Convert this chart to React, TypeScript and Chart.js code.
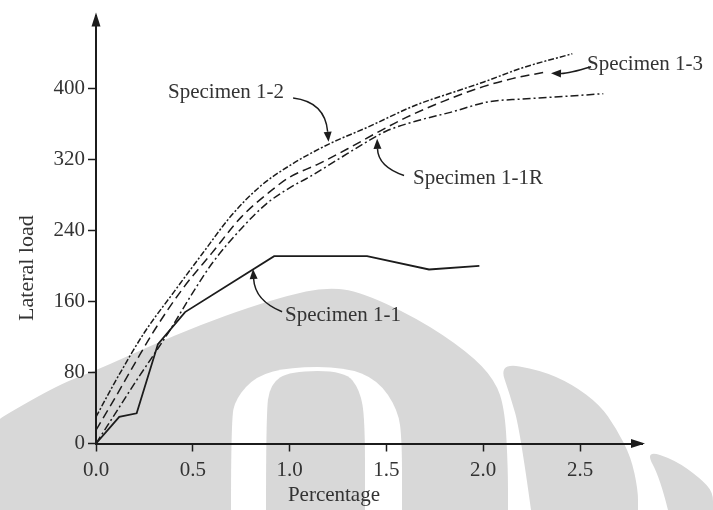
import React, { useEffect, useRef } from "react";
import { Chart, registerables } from "chart.js";
Chart.register(...registerables);

// ---- data ----
const specimen11X = [0, 0.12, 0.21, 0.32, 0.46, 0.92, 1.4, 1.72, 1.98];
const specimen11Y = [0, 30, 34, 112, 148, 211, 211, 196, 200];

const specimen12X = [0, 0.1, 0.25, 0.4, 0.55, 0.7, 0.85, 1.0, 1.2, 1.4, 1.65, 1.85, 2.0, 2.2, 2.46];
const specimen12Y = [30, 70, 125, 170, 214, 257, 290, 313, 337, 356, 381, 396, 407, 423, 439];

const specimen13X = [0, 0.1, 0.2, 0.3, 0.45, 0.6, 0.75, 0.9, 1.0, 1.15, 1.3, 1.45, 1.6, 1.8, 2.0, 2.15, 2.31];
const specimen13Y = [15, 52, 90, 127, 175, 215, 255, 284, 300, 315, 332, 350, 367, 386, 402, 411, 418];

const specimen11RX = [0, 0.1, 0.2, 0.38, 0.5, 0.6, 0.75, 0.88, 1.0, 1.1, 1.25, 1.4, 1.5, 1.65, 1.83, 2.03, 2.2, 2.35, 2.62];
const specimen11RY = [0, 34, 68, 127, 170, 203, 242, 270, 288, 300, 320, 340, 352, 363, 373, 385, 388, 390, 394];

const xTicks = [0, 0.5, 1.0, 1.5, 2.0, 2.5];
const yTicks = [0, 80, 160, 240, 320, 400];
const xMax = 2.82;
const yMax = 482;

const xTitle = "Percentage";
const yTitle = "Lateral load";

// annotation labels with curved arrows (data coordinates)
const labelTexts = ["Specimen 1-2", "Specimen 1-3", "Specimen 1-1R", "Specimen 1-1"];
const labelX = [0.372, 2.536, 1.637, 0.976];
const labelY = [389.5, 421.2, 292.4, 137.5];
const arrowStartX = [1.018, 2.557, 1.591, 0.961];
const arrowStartY = [389.1, 424.4, 301.8, 148.4];
const arrowCtrlX = [1.183, 2.438, 1.457, 0.821];
const arrowCtrlY = [384.7, 416.6, 311.8, 160.7];
const arrowTipX = [1.201, 2.35, 1.452, 0.811];
const arrowTipY = [339.9, 417.1, 343.2, 196.5];

const FONT = "'Liberation Serif', 'Times New Roman', serif";
const INK = "#1c1c1c";
const TEXT = "#333";
const WM = "#d8d8d8";

const toPts = (xs: number[], ys: number[]) => xs.map((x, i) => ({ x, y: ys[i] }));

function smoothPath(ctx: CanvasRenderingContext2D, pts: number[][]) {
  ctx.moveTo(pts[0][0], pts[0][1]);
  for (let i = 1; i < pts.length - 1; i++) {
    const mx = (pts[i][0] + pts[i + 1][0]) / 2;
    const my = (pts[i][1] + pts[i + 1][1]) / 2;
    ctx.quadraticCurveTo(pts[i][0], pts[i][1], mx, my);
  }
  const last = pts[pts.length - 1];
  ctx.lineTo(last[0], last[1]);
}

// faint background watermark (decoration only)
const watermarkPlugin = {
  id: "watermark",
  beforeDraw(chart: any) {
    const ctx = chart.ctx as CanvasRenderingContext2D;
    ctx.save();
    ctx.fillStyle = WM;
    // big blob
    ctx.beginPath();
    smoothPath(ctx, [
      [0, 510], [0, 420], [0, 418], [60, 384], [97, 370], [150, 346], [200, 325], [250, 307], [290, 295],
      [322, 288], [356, 290], [417, 318], [468, 352], [495, 380], [505, 410], [508, 470], [508, 510],
    ]);
    ctx.closePath();
    ctx.fill();
    // white ring
    ctx.fillStyle = "#ffffff";
    ctx.beginPath();
    smoothPath(ctx, [
      [231, 510], [231, 420], [236, 398], [256, 376], [290, 367], [345, 367], [378, 380],
      [398, 410], [402, 440], [402, 510],
    ]);
    ctx.closePath();
    ctx.fill();
    // inner grey
    ctx.fillStyle = WM;
    ctx.beginPath();
    smoothPath(ctx, [
      [266, 510], [266, 415], [270, 384], [290, 371], [345, 371], [360, 390], [365, 420], [365, 510],
    ]);
    ctx.closePath();
    ctx.fill();
    // right blob
    ctx.beginPath();
    smoothPath(ctx, [
      [531, 510], [520, 430], [510, 395], [499, 363], [540, 370], [572, 384], [600, 405],
      [616, 428], [631, 457], [638, 490], [638, 510],
    ]);
    ctx.closePath();
    ctx.fill();
    // far right piece
    ctx.beginPath();
    smoothPath(ctx, [
      [668, 510], [660, 478], [645, 450], [675, 460], [700, 478], [713, 492], [713, 510],
    ]);
    ctx.closePath();
    ctx.fill();
    ctx.restore();
  },
};

const decorPlugin = {
  id: "decor",
  afterDraw(chart: any) {
    const ctx = chart.ctx as CanvasRenderingContext2D;
    const xs = chart.scales.x;
    const ys = chart.scales.y;
    const area = chart.chartArea;
    ctx.save();
    // axis arrowheads
    ctx.fillStyle = INK;
    ctx.beginPath();
    ctx.moveTo(area.left, area.top - 3);
    ctx.lineTo(area.left - 4.5, area.top + 11);
    ctx.lineTo(area.left + 4.5, area.top + 11);
    ctx.closePath();
    ctx.fill();
    ctx.beginPath();
    ctx.moveTo(area.right + 3, area.bottom);
    ctx.lineTo(area.right - 11, area.bottom - 4.5);
    ctx.lineTo(area.right - 11, area.bottom + 4.5);
    ctx.closePath();
    ctx.fill();

    // annotation labels + curved arrows
    ctx.font = `21px ${FONT}`;
    ctx.fillStyle = TEXT;
    ctx.textAlign = "left";
    ctx.textBaseline = "alphabetic";
    labelTexts.forEach((t, i) => {
      ctx.fillText(t, xs.getPixelForValue(labelX[i]), ys.getPixelForValue(labelY[i]));
    });
    ctx.strokeStyle = INK;
    ctx.fillStyle = INK;
    ctx.lineWidth = 1.5;
    labelTexts.forEach((_, i) => {
      const sx = xs.getPixelForValue(arrowStartX[i]);
      const sy = ys.getPixelForValue(arrowStartY[i]);
      const cx = xs.getPixelForValue(arrowCtrlX[i]);
      const cy = ys.getPixelForValue(arrowCtrlY[i]);
      const tx = xs.getPixelForValue(arrowTipX[i]);
      const ty = ys.getPixelForValue(arrowTipY[i]);
      const ang = Math.atan2(ty - cy, tx - cx);
      const hl = 10;
      const hw = 4;
      const bx = tx - Math.cos(ang) * hl;
      const by = ty - Math.sin(ang) * hl;
      ctx.beginPath();
      ctx.moveTo(sx, sy);
      ctx.quadraticCurveTo(cx, cy, bx, by);
      ctx.stroke();
      ctx.beginPath();
      ctx.moveTo(tx, ty);
      ctx.lineTo(bx + Math.sin(ang) * hw, by - Math.cos(ang) * hw);
      ctx.lineTo(bx - Math.sin(ang) * hw, by + Math.cos(ang) * hw);
      ctx.closePath();
      ctx.fill();
    });

    // axis titles
    ctx.fillStyle = TEXT;
    ctx.font = `21px ${FONT}`;
    ctx.textAlign = "center";
    ctx.textBaseline = "alphabetic";
    ctx.fillText(xTitle, xs.getPixelForValue(1.229), area.bottom + 57);
    ctx.font = `22px ${FONT}`;
    ctx.translate(33, ys.getPixelForValue(197.6));
    ctx.rotate(-Math.PI / 2);
    ctx.fillText(yTitle, 0, 0);
    ctx.restore();
  },
};

export default function App() {
  const ref = useRef<HTMLCanvasElement>(null);
  useEffect(() => {
    if (!ref.current) return;
    const common = { pointRadius: 0, borderColor: INK, fill: false, borderWidth: 1.5 };
    const chart = new Chart(ref.current, {
      type: "line",
      data: {
        datasets: [
          { ...common, label: "Specimen 1-1", data: toPts(specimen11X, specimen11Y), tension: 0, borderWidth: 1.8 },
          { ...common, label: "Specimen 1-2", data: toPts(specimen12X, specimen12Y), cubicInterpolationMode: "monotone", borderDash: [6, 2, 2, 2] },
          { ...common, label: "Specimen 1-3", data: toPts(specimen13X, specimen13Y), cubicInterpolationMode: "monotone", borderDash: [9, 5] },
          { ...common, label: "Specimen 1-1R", data: toPts(specimen11RX, specimen11RY), cubicInterpolationMode: "monotone", borderDash: [8, 3, 2, 3] },
        ] as any,
      },
      options: {
        animation: false,
        responsive: false,
        layout: { padding: { left: 0, right: 71, top: 13, bottom: 0 } },
        plugins: { legend: { display: false }, tooltip: { enabled: false } },
        scales: {
          x: {
            type: "linear",
            min: 0,
            max: xMax,
            afterFit: (s: any) => { s.height = 66.5; },
            afterBuildTicks: (s: any) => { s.ticks = xTicks.map((v) => ({ value: v })); },
            grid: { drawOnChartArea: false, drawTicks: true, tickLength: 8, tickColor: INK, tickWidth: 1.5 },
            border: { display: true, color: INK, width: 2 },
            ticks: {
              padding: 6,
              color: TEXT,
              font: { family: FONT, size: 21 },
              maxRotation: 0,
              callback: (v: any) => Number(v).toFixed(1),
            },
          },
          y: {
            type: "linear",
            min: 0,
            max: yMax,
            afterFit: (s: any) => { s.width = 96; },
            afterBuildTicks: (s: any) => { s.ticks = yTicks.map((v) => ({ value: v })); },
            grid: { drawOnChartArea: false, drawTicks: true, tickLength: 8, tickColor: INK, tickWidth: 1.5 },
            border: { display: true, color: INK, width: 2 },
            ticks: {
              padding: 3,
              color: TEXT,
              font: { family: FONT, size: 21 },
              callback: (v: any) => String(v),
            },
          },
        },
      },
      plugins: [watermarkPlugin, decorPlugin],
    });
    return () => chart.destroy();
  }, []);
  return (
    <div style={{ position: "absolute", left: 0, top: 0, width: 713, height: 510, background: "#fff" }}>
      <canvas ref={ref} width={713} height={510} style={{ display: "block" }} />
    </div>
  );
}
